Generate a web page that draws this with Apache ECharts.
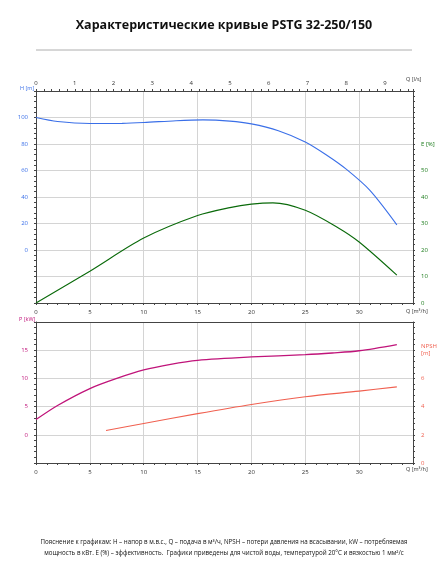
<!DOCTYPE html>
<html><head><meta charset="utf-8">
<script src="https://cdn.jsdelivr.net/npm/echarts@6/dist/echarts.min.js"></script>
<style>body{margin:0;background:#fff}#c{width:448px;height:567px}</style>
</head><body><div id="c"></div>
<script>
// Q в м3/ч
var hQ = [0, 2, 5, 8, 10, 13, 15.5, 18, 20, 22.5, 25, 27, 28.8, 31, 33.5];
var hVal = [100, 97, 95.5, 95.6, 96.2, 97.6, 98.2, 97.3, 95.2, 90, 81.5, 71.5, 61, 45, 19];
var eQ = [0, 5, 10, 15, 18, 20, 22, 25, 28, 30, 33.5];
var eVal = [0, 12, 24.5, 33, 36, 37.3, 37.8, 35, 28.5, 23, 10.5];
var pQ = [0, 2, 5, 7.5, 10, 12.5, 15, 20, 25, 27.5, 30, 33.5];
var pVal = [2.7, 5.2, 8.2, 10, 11.5, 12.5, 13.2, 13.8, 14.2, 14.5, 14.9, 16];
var nQ = [6.5, 10, 15, 20, 25, 30, 33.5];
var nVal = [2.3, 2.8, 3.5, 4.15, 4.7, 5.1, 5.4];

function pairs(x, y){ var r=[]; for(var i=0;i<x.length;i++) r.push([x[i],y[i]]); return r; }

var lab = {fontSize:6, color:'#333', fontFamily:'Open Sans'};
var gridLine = {show:true, lineStyle:{color:'#d4d4d4'}};
var axLine = {show:true, onZero:false, lineStyle:{color:'#444'}};
var minor = {show:true, splitNumber:5, length:2, lineStyle:{color:'#444'}};
var small = {fontSize:5.5, fill:'#333', fontFamily:'Open Sans'};

var chart = echarts.init(document.getElementById('c'));
chart.setOption({
  animation:false,
  title:[{text:'Характеристические кривые PSTG 32-250/150', left:'center', top:14,
    textStyle:{fontSize:12.5, fontWeight:'bold', color:'#111', fontFamily:'Open Sans'}},
    {text:'Пояснение к графикам: H – напор в м.в.с., Q – подача в м³/ч, NPSH – потери давления на всасывании, kW – потребляемая\nмощность в кВт. E (%) – эффективность.  Графики приведены для чистой воды, температурой 20°С и вязкостью 1 мм²/с',
    left:'center', top:532, textStyle:{fontSize:6.2, fontWeight:'normal', color:'#111', lineHeight:11, fontFamily:'Open Sans'}}],
  graphic:[
    {type:'line', shape:{x1:36,y1:50,x2:412,y2:50}, style:{stroke:'#999', lineWidth:0.8}},
    {type:'text', x:406, y:76, style:{...small, text:'Q [l/s]'}},
    {type:'text', x:406, y:308, style:{...small, text:'Q [m³/h]'}},
    {type:'text', x:406, y:466, style:{...small, text:'Q [m³/h]'}},
    {type:'text', x:20, y:85, style:{...small, fill:'#3a6fe8', text:'H [m]'}},
    {type:'text', x:19, y:316, style:{...small, fill:'#c0147a', text:'P [kW]'}}
  ],
  grid:[{left:36, right:35, top:91, height:212}, {left:36, right:35, top:322, height:141}],
  xAxis:[
    {gridIndex:0, type:'value', min:0, max:35, interval:5, axisLabel:{...lab, margin:6, formatter:function(v){return v>32?'':v;}}, axisLine:axLine,
     axisTick:{show:true,length:2}, minorTick:minor, splitLine:gridLine},
    {gridIndex:0, type:'value', position:'top', min:0, max:35/3.6, interval:1, axisLabel:{...lab, margin:5,
      formatter:function(v){return v>9.5?'':v;}}, axisLine:axLine, axisTick:{show:true,length:2}, minorTick:{show:true,splitNumber:5,length:2},
     splitLine:{show:false}},
    {gridIndex:1, type:'value', min:0, max:35, interval:5, axisLabel:{...lab, margin:6, formatter:function(v){return v>32?'':v;}}, axisLine:axLine,
     axisTick:{show:true,length:2}, minorTick:minor, splitLine:gridLine},
    {gridIndex:1, type:'value', position:'top', min:0, max:35, interval:5, axisLabel:{show:false}, axisLine:axLine, axisTick:{show:false}, splitLine:{show:false}}
  ],
  yAxis:[
    {gridIndex:0, type:'value', min:-40, max:120, interval:20, axisLine:axLine, axisTick:{show:true,length:2},
     minorTick:minor, splitLine:gridLine,
     axisLabel:{...lab, color:'#3a6fe8', formatter:function(v){return (v<0||v>100)?'':v;}}},
    {gridIndex:0, type:'value', min:0, max:80, interval:10, position:'right', axisLine:axLine,
     axisTick:{show:true,length:2}, minorTick:minor, splitLine:{show:false},
     axisLabel:{...lab, color:'#1a7a1a', formatter:function(v){return v>50?(v==60?'E [%]':''):v;}}},
    {gridIndex:1, type:'value', min:-5, max:20, interval:5, axisLine:axLine, axisTick:{show:true,length:2},
     minorTick:minor, splitLine:gridLine,
     axisLabel:{...lab, color:'#c0147a', formatter:function(v){return (v<0||v>15)?'':v;}}},
    {gridIndex:1, type:'value', min:0, max:10, interval:2, position:'right', axisLine:axLine,
     axisTick:{show:true,length:2}, minorTick:minor, splitLine:{show:false},
     axisLabel:{...lab, color:'#f06050', lineHeight:7, formatter:function(v){return v>6?(v==8?'NPSH\n[m]':''):v;}}}
  ],
  series:[
    {type:'line', xAxisIndex:0, yAxisIndex:0, data:pairs(hQ,hVal), smooth:0.3, showSymbol:false, lineStyle:{color:'#3a6fe8', width:1.1}},
    {type:'line', xAxisIndex:0, yAxisIndex:1, data:pairs(eQ,eVal), smooth:0.3, showSymbol:false, lineStyle:{color:'#0a6a0a', width:1.1}},
    {type:'line', xAxisIndex:2, yAxisIndex:2, data:pairs(pQ,pVal), smooth:0.3, showSymbol:false, lineStyle:{color:'#c0147a', width:1.3}},
    {type:'line', xAxisIndex:2, yAxisIndex:3, data:pairs(nQ,nVal), smooth:0.3, showSymbol:false, lineStyle:{color:'#f06050', width:1.1}}
  ]
});
</script></body></html>
